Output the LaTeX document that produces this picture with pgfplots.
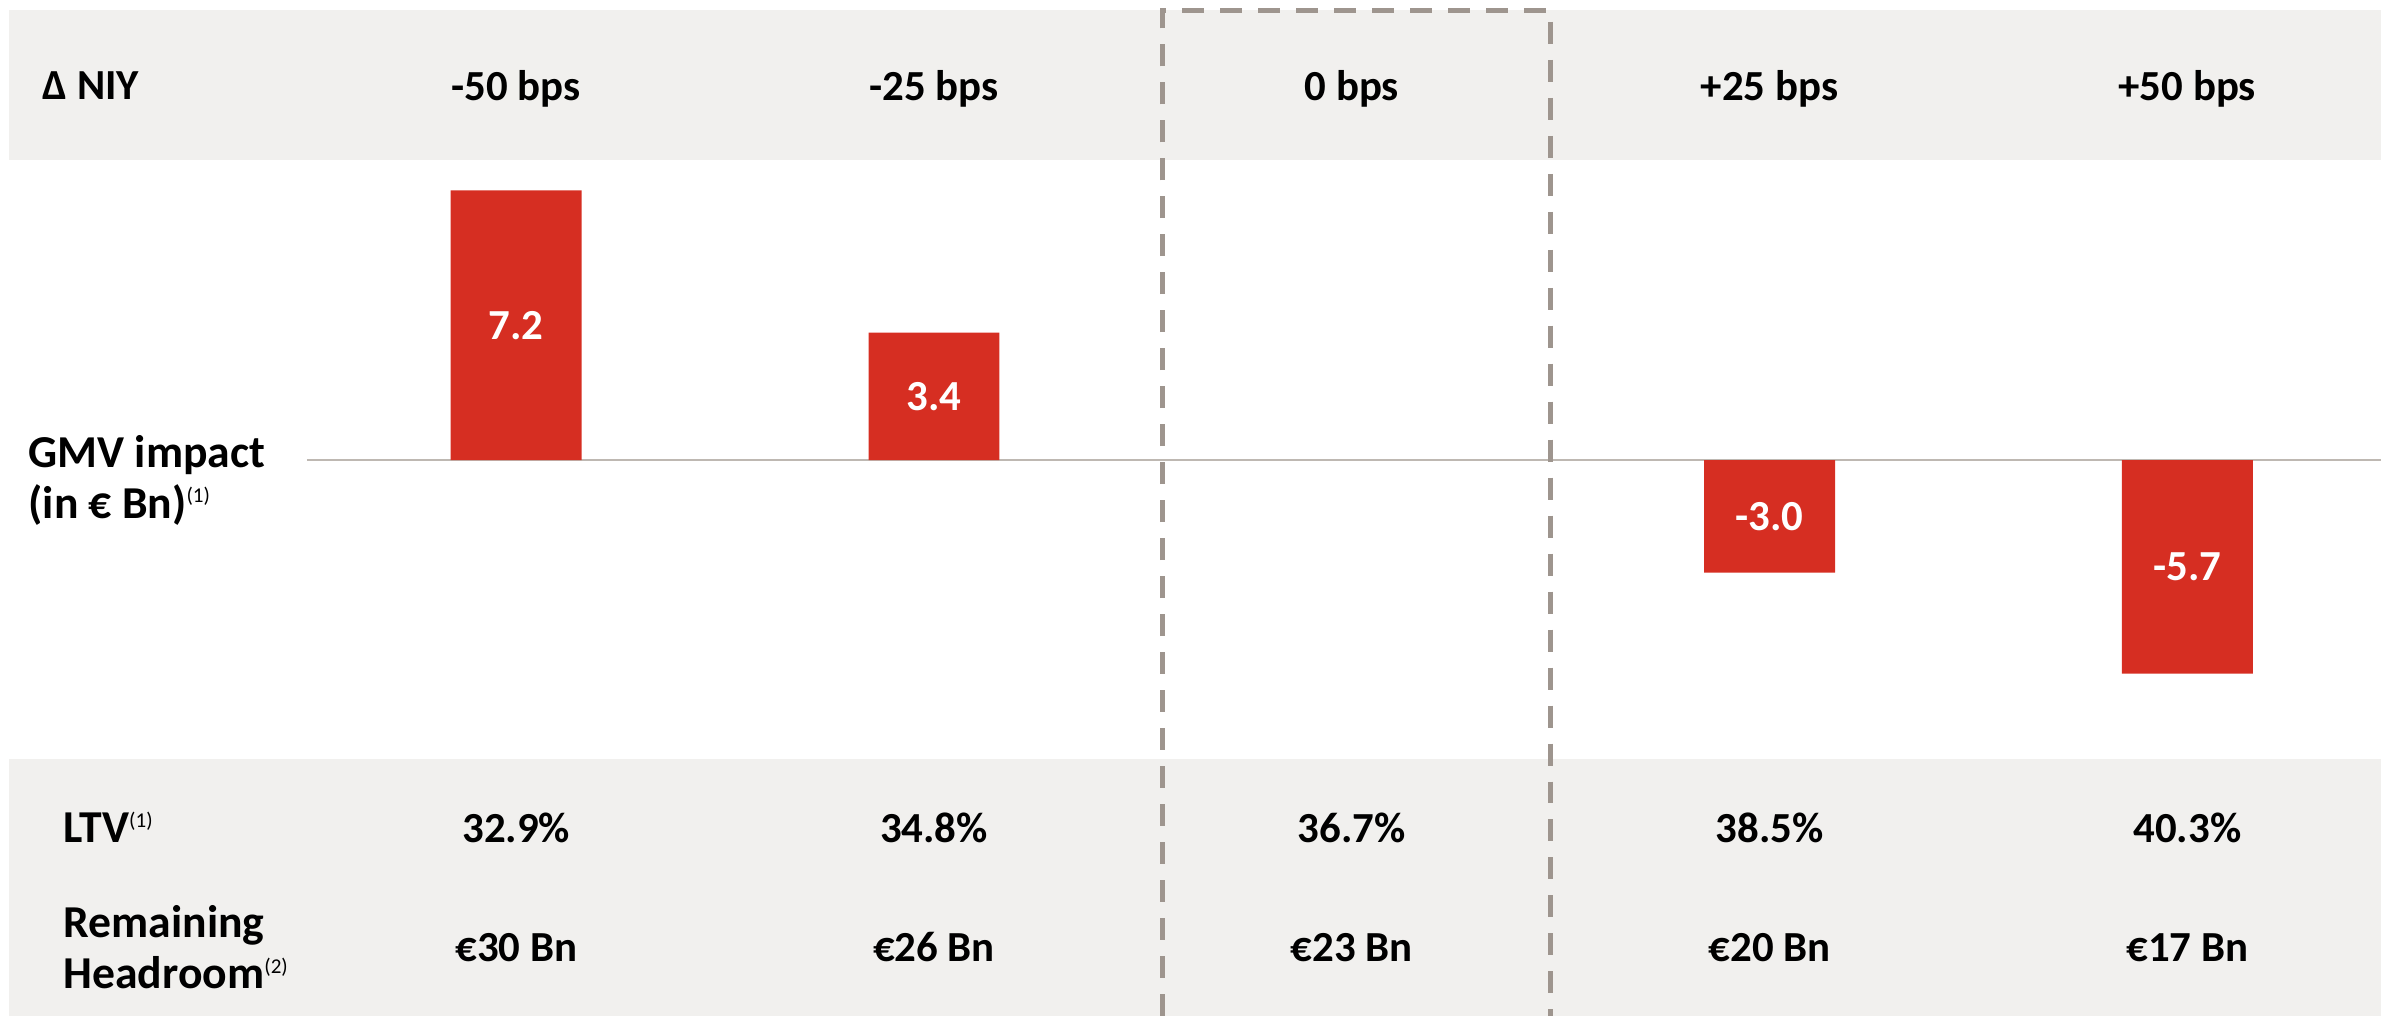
\documentclass[border=0pt]{standalone}
\usepackage{pgfplots}
\pgfplotsset{compat=1.18}
\usepackage{fontspec}
\setmainfont{Carlito}
\definecolor{barred}{RGB}{214,46,34}
\definecolor{bandgray}{RGB}{241,240,238}
\definecolor{dashgray}{RGB}{158,149,142}
\definecolor{zline}{RGB}{190,184,178}
\newcommand{\fnref}[1]{\textsuperscript{\fontsize{6}{7}\selectfont\mdseries(#1)}}
\begin{document}
\begin{tikzpicture}
\begin{axis}[
  scale only axis,
  width=238.2mm, height=101.6mm,
  xmin=-1.2356, xmax=4.463,
  ymin=-14.827, ymax=12.267,
  enlargelimits=false,
  axis on top,
  axis line style={draw=none},
  ytick=\empty,
  xtick={0,1,2,3,4},
  xticklabels={-50 bps,-25 bps,0 bps,+25 bps,+50 bps},
  xticklabel pos=upper,
  major tick length=0pt,
  xticklabel style={anchor=base, yshift=-10.0mm, font=\fontsize{12.2}{14}\selectfont\bfseries},
  clip=false,
  font=\fontsize{12.2}{14}\selectfont\bfseries,
]
% background bands
\fill[bandgray] (axis cs:-1.214,12.0) rectangle (axis cs:4.463,8.0);
\fill[bandgray] (axis cs:-1.214,-7.97) rectangle (axis cs:4.463,-14.827);
% zero line
\draw[zline, line width=0.25mm] (axis cs:-0.501,0) -- (axis cs:4.463,0);
% bars
\addplot[ybar, bar width=13.1mm, fill=barred, draw=none] coordinates {
  (0,7.2) (1,3.4) (3,-3.0) (4,-5.7)
};
% bar value labels (centred in bars)
\addplot[only marks, mark=none, nodes near coords, point meta=explicit symbolic,
  every node near coord/.append style={anchor=center, text=white, font=\fontsize{12.2}{14}\selectfont\bfseries}]
  coordinates {
  (0,3.6)[7.2] (1,1.7)[3.4] (3,-1.5)[-3.0] (4,-2.85)[-5.7]
};
% dashed box around 0 bps
\draw[dashgray, line width=0.5mm, dash pattern=on 2.2mm off 1.6mm]
  (axis cs:1.5467,-14.827) -- (axis cs:1.5467,12.0) -- (axis cs:2.476,12.0) -- (axis cs:2.476,-14.827);
% row labels
\node[anchor=base west, inner sep=0pt] at (axis cs:-1.135,9.63) {Δ NIY};
\node[anchor=base west, inner sep=0pt, font=\fontsize{13}{15}\selectfont\bfseries] at (axis cs:-1.169,-0.2) {GMV impact};
\node[anchor=base west, inner sep=0pt, font=\fontsize{13}{15}\selectfont\bfseries] at (axis cs:-1.169,-1.547) {(in € Bn)\fnref{1}};
\node[anchor=base west, inner sep=0pt, font=\fontsize{13}{15}\selectfont\bfseries] at (axis cs:-1.085,-10.2) {LTV\fnref{1}};
\node[anchor=base west, inner sep=0pt, font=\fontsize{13}{15}\selectfont\bfseries] at (axis cs:-1.085,-12.74) {Remaining};
\node[anchor=base west, inner sep=0pt, font=\fontsize{13}{15}\selectfont\bfseries] at (axis cs:-1.085,-14.11) {Headroom\fnref{2}};
% LTV row
\node[anchor=base] at (axis cs:0,-10.2) {32.9\%};
\node[anchor=base] at (axis cs:1,-10.2) {34.8\%};
\node[anchor=base] at (axis cs:2,-10.2) {36.7\%};
\node[anchor=base] at (axis cs:3,-10.2) {38.5\%};
\node[anchor=base] at (axis cs:4,-10.2) {40.3\%};
% Headroom row
\node[anchor=base] at (axis cs:0,-13.37) {€30 Bn};
\node[anchor=base] at (axis cs:1,-13.37) {€26 Bn};
\node[anchor=base] at (axis cs:2,-13.37) {€23 Bn};
\node[anchor=base] at (axis cs:3,-13.37) {€20 Bn};
\node[anchor=base] at (axis cs:4,-13.37) {€17 Bn};
\end{axis}
\end{tikzpicture}
\end{document}
